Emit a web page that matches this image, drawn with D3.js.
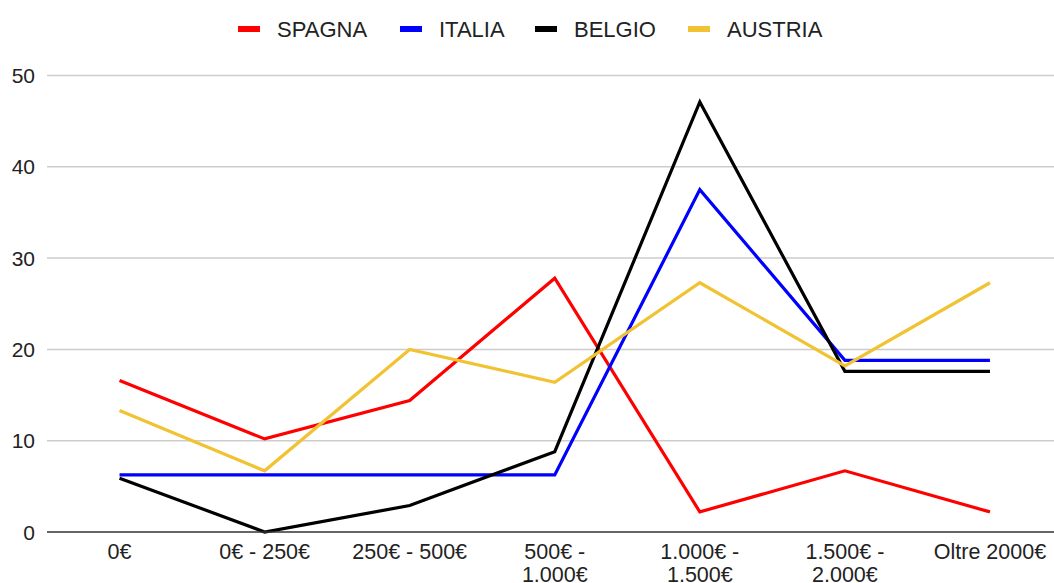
<!DOCTYPE html>
<html>
<head>
<meta charset="utf-8">
<script src="https://cdn.jsdelivr.net/npm/d3@7"></script>
<style>
  body { margin: 0; background: #fff; }
  text { font-family: "Liberation Sans", Arial, sans-serif; fill: #222; }
</style>
</head>
<body>
<svg id="chart" width="1054" height="583"></svg>
<script>
// categories (x axis), each label split in lines as in the picture
const categories = ["0€", "0€ - 250€", "250€ - 500€", "500€ - 1.000€", "1.000€ - 1.500€", "1.500€ - 2.000€", "Oltre 2000€"];
const categoryLines = [["0€"], ["0€ - 250€"], ["250€ - 500€"], ["500€ -", "1.000€"], ["1.000€ -", "1.500€"], ["1.500€ -", "2.000€"], ["Oltre 2000€"]];

const spagna  = [16.6, 10.2, 14.4, 27.8, 2.2, 6.7, 2.2];
const italia  = [6.25, 6.25, 6.25, 6.25, 37.5, 18.8, 18.8];
const belgio  = [5.9, 0, 2.9, 8.8, 47.1, 17.6, 17.6];
const austria = [13.3, 6.7, 20.0, 16.4, 27.3, 18.2, 27.3];

const yTicks = [0, 10, 20, 30, 40, 50];

const series = [
    {name: "SPAGNA", values: spagna, color: "#ff0000"},
    {name: "ITALIA", values: italia, color: "#0000ff"},
    {name: "BELGIO", values: belgio, color: "#000000"},
    {name: "AUSTRIA", values: austria, color: "#f1c232"}
];

var svg = d3.select("#chart");

var x = d3.scaleBand().domain(categories).range([47, 1062.5]);
var y = d3.scaleLinear().domain([0, 50]).range([532, 75.5]);

// gridlines
svg.append("g")
    .selectAll("line")
    .data(yTicks.filter(d => d != 0))
    .join("line")
    .attr("x1", 47).attr("x2", 1054)
    .attr("y1", d => y(d)).attr("y2", d => y(d))
    .attr("stroke", "#cccccc")
    .attr("stroke-width", 1.5);

// y labels
svg.append("g")
    .selectAll("text")
    .data(yTicks)
    .join("text")
    .attr("x", 35)
    .attr("y", d => y(d))
    .attr("dy", "0.36em")
    .attr("text-anchor", "end")
    .style("font-size", "21px")
    .text(d => d);

// x labels
var xl = svg.append("g")
    .selectAll("text")
    .data(categories)
    .join("text")
    .attr("text-anchor", "middle")
    .attr("transform", d => `translate(${x(d) + x.bandwidth() / 2},559)`)
    .style("font-size", "21.5px");

xl.selectAll("tspan")
    .data((d, i) => categoryLines[i])
    .join("tspan")
    .attr("x", 0)
    .attr("dy", (d, i) => i == 0 ? 0 : 23)
    .text(d => d);

// lines
var line = d3.line()
    .x((d, i) => x(categories[i]) + x.bandwidth() / 2)
    .y(d => y(d));

svg.append("g")
    .selectAll("path")
    .data(series)
    .join("path")
    .attr("d", d => line(d.values))
    .attr("fill", "none")
    .attr("stroke", d => d.color)
    .attr("stroke-width", 3.2)
    .attr("stroke-linejoin", "miter");

// baseline
svg.append("line")
    .attr("x1", 47).attr("x2", 1054)
    .attr("y1", y(0)).attr("y2", y(0))
    .attr("stroke", "#333333")
    .attr("stroke-width", 1.5);

// legend
const legendX = [238, 400, 535, 688];
var lg = svg.append("g")
    .selectAll("g")
    .data(series)
    .join("g")
    .attr("transform", (d, i) => `translate(${legendX[i]},0)`);

lg.append("rect")
    .attr("x", 0).attr("y", 26)
    .attr("width", 22).attr("height", 6)
    .attr("fill", d => d.color);

lg.append("text")
    .attr("x", 39)
    .attr("y", 29)
    .attr("dy", "0.36em")
    .style("font-size", "22px")
    .text(d => d.name);
</script>
</body>
</html>
